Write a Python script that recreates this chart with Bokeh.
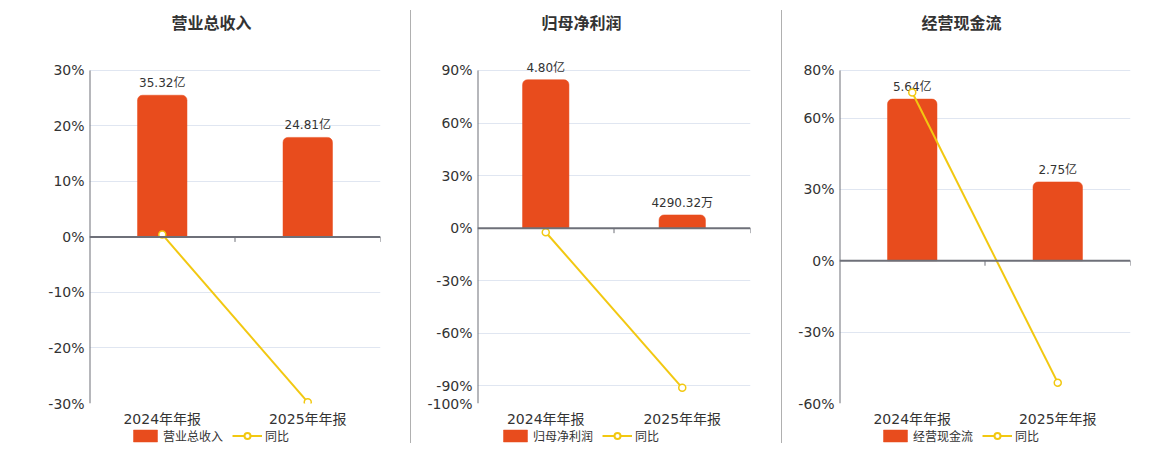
from bokeh.plotting import figure
from bokeh.models import (ColumnDataSource, FactorRange, Range1d, FixedTicker, Span,
                          Legend, LegendItem, Spacer, CustomJSTickFormatter)
from bokeh.layouts import row, column
from bokeh.embed import file_html
from bokeh.resources import INLINE
from bokeh.core.properties import value

# ---------------- data ----------------
categories = ["2024年年报", "2025年年报"]

rev_title = "营业总收入"
rev_values = [35.32, 24.81]          # 亿
rev_labels = ["35.32亿", "24.81亿"]
rev_yoy = [0.45, -29.76]             # %
rev_ticks = [-30, -20, -10, 0, 10, 20, 30]

np_title = "归母净利润"
np_values = [4.80, 0.429032]         # 亿
np_labels = ["4.80亿", "4290.32万"]
np_yoy = [-2.3, -91.06]
np_ticks = [-100, -90, -60, -30, 0, 30, 60, 90]

cf_title = "经营现金流"
cf_values = [5.64, 2.75]             # 亿
cf_labels = ["5.64亿", "2.75亿"]
cf_yoy = [70.7, -51.24]
cf_ticks = [-60, -30, 0, 30, 60, 80]

yoy_name = "同比"

# ---------------- style ----------------
FONT = "DejaVu Sans, Noto Sans CJK SC"
BAR_COLOR = "#e84c1d"
LINE_COLOR = "#f2c811"
AXIS_COLOR = "#6e7079"
GRID_COLOR = "#e0e6f1"
TEXT_COLOR = "#333333"

TITLE_H = 39
LEGEND_H = 15
TOP_PAD = 14          # extra frame space above the top tick (room for bar labels)
AXIS_H = 335          # pixel height from top tick to bottom tick
TOP_BORDER = 70 - TOP_PAD - TITLE_H
BOTTOM_BORDER = 24
HEIGHT = TOP_BORDER + TOP_PAD + AXIS_H + BOTTOM_BORDER


def make_panel(title, values, labels, yoy, ticks, bar_top, width, left, right,
               title_dx, legend_dx):
    y_start, y_end = ticks[0], ticks[-1]
    per_px = (y_end - y_start) / AXIS_H
    y_top = y_end + TOP_PAD * per_px

    # title strip
    tt = figure(width=width, height=TITLE_H, x_range=FactorRange(*categories),
                y_range=Range1d(0, 1), min_border_top=TITLE_H - 2, min_border_bottom=0,
                min_border_left=left, min_border_right=right,
                x_axis_type=None, y_axis_type=None, title=title,
                output_backend="svg", toolbar_location=None)
    tt.outline_line_color = None
    tt.grid.grid_line_color = None
    tt.title.align = "left"
    tt.title.offset = title_dx
    tt.title.text_font = FONT
    tt.title.text_font_size = "16px"
    tt.title.text_font_style = "bold"
    tt.title.text_color = TEXT_COLOR

    p = figure(x_range=FactorRange(*categories), y_range=Range1d(y_start, y_top),
               width=width, height=HEIGHT, min_border_left=left, min_border_right=right,
               min_border_top=TOP_BORDER, min_border_bottom=BOTTOM_BORDER,
               output_backend="svg", toolbar_location=None)
    scale = bar_top / y_end
    p.extra_y_ranges = {"bars": Range1d(y_start * scale, y_top * scale)}
    p.outline_line_color = None
    p.background_fill_color = "white"
    p.border_fill_color = "white"

    # axes
    p.xgrid.grid_line_color = None
    p.ygrid.grid_line_color = GRID_COLOR
    p.ygrid.ticker = FixedTicker(ticks=ticks)
    p.yaxis.ticker = FixedTicker(ticks=ticks)
    p.yaxis.formatter = CustomJSTickFormatter(code="return tick + '%';")
    p.yaxis.axis_line_color = None
    p.yaxis.major_tick_line_color = None
    p.yaxis.major_tick_out = 0
    p.yaxis.minor_tick_line_color = None
    p.yaxis.major_label_standoff = 5
    p.yaxis.major_label_text_font = FONT
    p.yaxis.major_label_text_font_size = "14px"
    p.yaxis.major_label_text_color = TEXT_COLOR
    p.xaxis.axis_line_color = None
    p.xaxis.major_tick_line_color = None
    p.xaxis.major_tick_out = 0
    p.xaxis.minor_tick_line_color = None
    p.xaxis.major_label_standoff = 7
    p.xaxis.major_label_text_font = FONT
    p.xaxis.major_label_text_font_size = "14px"
    p.xaxis.major_label_text_color = TEXT_COLOR

    src = ColumnDataSource(dict(cat=categories, val=values, lab=labels, yoy=yoy))

    # y axis line from bottom tick to top tick
    p.segment(x0=[0], x1=[0], y0=[y_start], y1=[y_end], line_color=AXIS_COLOR, line_width=2)

    bar_style = dict(fill_color=BAR_COLOR, line_color=BAR_COLOR, line_width=0.5,
                     border_radius=(5, 5, 0, 0))
    p.vbar(x="cat", top="val", bottom=0, width=0.34, source=src, y_range_name="bars",
           **bar_style)
    p.text(x="cat", y="val", text="lab", source=src, y_range_name="bars",
           text_align="center", text_baseline="bottom", y_offset=-5,
           text_font=value(FONT), text_font_size="12px", text_color=TEXT_COLOR)

    # zero axis line with category boundary ticks
    p.add_layout(Span(location=0, dimension="width", line_color=AXIS_COLOR, line_width=2))
    bounds = [i + 1 for i in range(len(categories))]
    p.segment(x0=bounds, x1=bounds, y0=[0] * len(bounds), y1=[-5 * per_px] * len(bounds),
              line_color=AXIS_COLOR, line_width=1)

    p.line(x="cat", y="yoy", source=src, line_color=LINE_COLOR, line_width=2)
    p.scatter(x="cat", y="yoy", source=src, marker="circle", size=7,
              fill_color="white", line_color=LINE_COLOR, line_width=1.5)

    # legend strip below the chart (its frame is aligned with the chart frame)
    lg = figure(width=width, height=LEGEND_H, x_range=FactorRange(*categories),
                y_range=Range1d(0, 1), min_border=0, x_axis_type=None, y_axis_type=None,
                output_backend="svg", toolbar_location=None)
    lg.outline_line_color = None
    lg.grid.grid_line_color = None
    lbar = lg.vbar(x="cat", top="val", width=0.34, source=src, visible=False, **bar_style)
    lline = lg.line(x="cat", y="yoy", source=src, visible=False,
                    line_color=LINE_COLOR, line_width=2)
    lmark = lg.scatter(x="cat", y="yoy", source=src, visible=False, marker="circle",
                       size=11, fill_color="white", line_color=LINE_COLOR, line_width=2)
    legend = Legend(items=[LegendItem(label=title, renderers=[lbar]),
                           LegendItem(label=yoy_name, renderers=[lline, lmark])],
                    location=(legend_dx, 0), orientation="horizontal", padding=0,
                    margin=0, spacing=9, label_standoff=3, glyph_width=30,
                    glyph_height=15, label_height=15, label_text_font=FONT,
                    label_text_font_size="12px", label_text_color=TEXT_COLOR,
                    border_line_color=None, background_fill_alpha=0,
                    inactive_fill_alpha=0)
    lg.add_layout(legend)
    return column(tt, p, lg)


p1 = make_panel(rev_title, rev_values, rev_labels, rev_yoy, rev_ticks, 41.5,
                410, 89, 30, 82, 41)
p2 = make_panel(np_title, np_values, np_labels, np_yoy, np_ticks, 5.10,
                370, 66, 31, 64, 23)
p3 = make_panel(cf_title, cf_values, cf_labels, cf_yoy, cf_ticks, 6.64,
                370, 57, 22, 82, 41)

sep1 = Spacer(width=1, height=433, margin=(10, 0, 0, 0), styles={"background-color": "#b0b0b0"})
sep2 = Spacer(width=1, height=433, margin=(10, 0, 0, 0), styles={"background-color": "#b0b0b0"})

layout = row(p1, sep1, p2, sep2, p3)

open("out.html", "w").write(file_html(layout, INLINE))
